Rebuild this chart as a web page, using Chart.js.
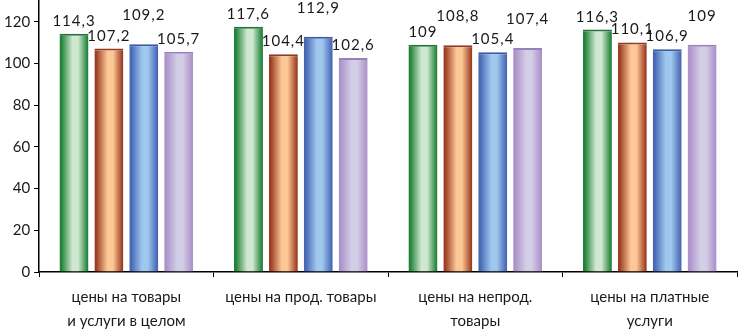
<!DOCTYPE html>
<html>
<head>
<meta charset="utf-8">
<script src="https://cdn.jsdelivr.net/npm/chart.js@4"></script>
<style>
  html, body { margin: 0; padding: 0; background: #fff; }
  #wrap { width: 739px; height: 329px; }
</style>
</head>
<body>
<div id="wrap"><canvas id="priceChart"></canvas></div>
<script>
const categories = [
  ["цены на товары", "и услуги в целом"],
  ["цены на прод. товары"],
  ["цены на непрод.", "товары"],
  ["цены на платные", "услуги"],
];
const series1 = [114.3, 117.6, 109, 116.3];
const series2 = [107.2, 104.4, 108.8, 110.1];
const series3 = [109.2, 112.9, 105.4, 106.9];
const series4 = [105.7, 102.6, 107.4, 109];
const yTicks = [0, 20, 40, 60, 80, 100, 120];

// edge colour, light centre colour, top border
const palette = [
  ["#1f8238", "#d0e8d0", "#23743a"],
  ["#9c3c22", "#fcc896", "#8f3a22"],
  ["#4766b4", "#9fc8ee", "#3a5aa5"],
  ["#ad92ca", "#d2cee6", "#9a80ba"],
];

const gradientPlugin = {
  id: "gradientBars",
  beforeDatasetsDraw(chart) {
    const ctx = chart.ctx;
    chart.data.datasets.forEach((ds, i) => {
      const [edge, light] = palette[i];
      chart.getDatasetMeta(i).data.forEach((bar) => {
        const left = bar.x - bar.width / 2;
        const g = ctx.createLinearGradient(left, 0, left + bar.width, 0);
        g.addColorStop(0, edge);
        g.addColorStop(0.06, edge);
        g.addColorStop(0.45, light);
        g.addColorStop(0.64, light);
        g.addColorStop(0.97, edge);
        g.addColorStop(1, edge);
        bar.options.backgroundColor = g;
      });
    });
  },
  afterDatasetsDraw(chart) {
    const ctx = chart.ctx;
    ctx.save();
    ctx.font = "15px Lato, sans-serif";
    ctx.letterSpacing = "1px";
    ctx.fillStyle = "#1a1a1a";
    ctx.textAlign = "center";
    ctx.textBaseline = "alphabetic";
    const n = chart.data.labels.length;
    for (let j = 0; j < n; j++) {
      let prev = null;
      chart.data.datasets.forEach((ds, i) => {
        const bar = chart.getDatasetMeta(i).data[j];
        const v = ds.data[j];
        const txt = String(v).replace(".", ",");
        let base = bar.y - 8;
        // lift a label that would collide with its left neighbour
        if (prev && !prev.lifted && v >= prev.v - 1 && Math.abs(base - prev.base) < 18) {
          base = Math.min(base, prev.base) - 16;
          prev = { base, v, lifted: true };
        } else {
          prev = { base, v, lifted: false };
        }
        ctx.fillText(txt, bar.x, base);
      });
    }
    ctx.restore();
  },
};

const seriesList = [series1, series2, series3, series4];

new Chart(document.getElementById("priceChart"), {
  type: "bar",
  data: {
    labels: categories,
    datasets: seriesList.map((s, i) => ({
      data: s,
      backgroundColor: () => palette[i][1],
      borderColor: palette[i][2],
      borderWidth: { top: 2, left: 0, right: 0, bottom: 0 },
      borderSkipped: "bottom",
      barPercentage: 0.83,
      categoryPercentage: 0.8,
    })),
  },
  options: {
    responsive: true,
    maintainAspectRatio: false,
    animation: false,
    layout: { padding: { top: 1, right: 2, left: 0, bottom: 0 } },
    plugins: { legend: { display: false }, tooltip: { enabled: false } },
    scales: {
      x: {
        afterFit: (axis) => {
          axis.height = 57;
        },
        grid: {
          offset: true,
          drawOnChartArea: false,
          tickLength: 5,
          color: "#000",
        },
        border: { color: "#000", width: 1.5 },
        ticks: {
          color: "#1a1a1a",
          font: { family: "Lato", size: 15, lineHeight: 1.55 },
          padding: 9,
          maxRotation: 0,
        },
      },
      y: {
        min: 0,
        max: 130,
        afterBuildTicks: (axis) => {
          axis.ticks = yTicks.map((v) => ({ value: v }));
        },
        afterFit: (axis) => {
          axis.paddingTop = 0;
        },
        grid: {
          drawOnChartArea: false,
          tickLength: 5,
          color: "#000",
        },
        border: { color: "#000", width: 1.5 },
        ticks: {
          color: "#1a1a1a",
          font: { family: "Lato", size: 15 },
          padding: 4,
        },
      },
    },
  },
  plugins: [gradientPlugin],
});
</script>
</body>
</html>
